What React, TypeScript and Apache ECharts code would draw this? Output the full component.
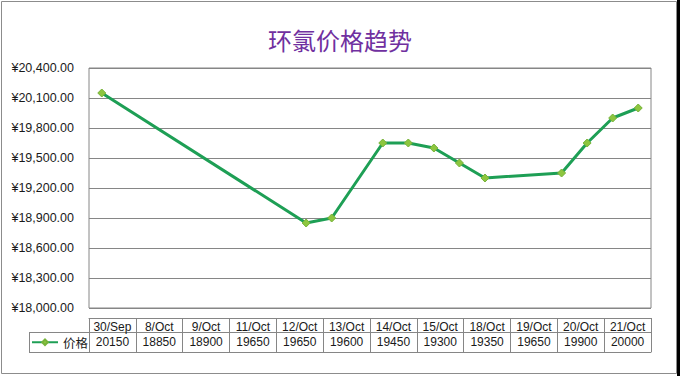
import React, { useEffect, useRef } from "react";
import * as echarts from "echarts";

const categories = ["30/Sep", "8/Oct", "9/Oct", "11/Oct", "12/Oct", "13/Oct", "14/Oct", "15/Oct", "18/Oct", "19/Oct", "20/Oct", "21/Oct"];
const prices = [20150, 18850, 18900, 19650, 19650, 19600, 19450, 19300, 19350, 19650, 19900, 20000];
const seriesName = "价格";
const titleText = "环氯价格趋势";
const yMin = 18000;
const yMax = 20400;
const yInterval = 300;

const MONTHS = ["Jan", "Feb", "Mar", "Apr", "May", "Jun", "Jul", "Aug", "Sep", "Oct", "Nov", "Dec"];
function labelToTime(label: string): number {
  const [d, m] = label.split("/");
  return Date.UTC(2021, MONTHS.indexOf(m), Number(d));
}
const t0 = labelToTime(categories[0]);
const dayOffsets = categories.map((c) => (labelToTime(c) - t0) / 86400000);
const lastDay = dayOffsets[dayOffsets.length - 1];

function formatYen(v: number): string {
  const s = Math.round(v).toString().replace(/\B(?=(\d{3})+(?!\d))/g, ",");
  return "¥" + s + ".00";
}

const GRID = "#868686";
const LINE = "#1E9F55";
const TEXT = "#1a1a1a";
const FONT = "'Liberation Sans', Arial, sans-serif";
const CJK = "'Noto Sans CJK SC', sans-serif";

export default function App() {
  const ref = useRef<HTMLDivElement>(null);
  useEffect(() => {
    if (!ref.current) return;
    const chart = echarts.init(ref.current, null, { renderer: "svg" });
    chart.setOption({
      animation: false,
      backgroundColor: "#ffffff",
      title: {
        text: titleText,
        left: "center",
        top: 27,
        padding: 0,
        textStyle: { color: "#7030A0", fontSize: 24, fontWeight: "normal", fontFamily: CJK },
      },
      legend: {
        data: [seriesName],
        left: 31,
        top: 336,
        padding: 0,
        itemWidth: 26,
        itemHeight: 7,
        textStyle: { fontSize: 12.5, color: TEXT, fontFamily: CJK },
      },
      grid: {
        left: 89,
        top: 68,
        width: 562,
        height: 240,
        show: true,
        borderColor: GRID,
        borderWidth: 1,
        backgroundColor: "transparent",
      },
      xAxis: [
        {
          type: "value",
          min: -0.5,
          max: lastDay + 0.5,
          show: false,
        },
        {
          type: "category",
          position: "bottom",
          offset: 10,
          data: categories,
          boundaryGap: true,
          axisLine: { show: true, lineStyle: { color: GRID, width: 1 } },
          axisTick: { show: true, interval: 0, length: 34, lineStyle: { color: GRID, width: 1 } },
          axisLabel: { interval: 0, margin: 3, fontSize: 12, color: TEXT, fontFamily: FONT },
          splitLine: { show: false },
        },
        {
          type: "category",
          position: "bottom",
          offset: 24,
          data: prices.map((p) => String(p)),
          boundaryGap: true,
          axisLine: { show: true, lineStyle: { color: GRID, width: 1 } },
          axisTick: { show: false },
          axisLabel: { interval: 0, margin: 4, fontSize: 12, color: TEXT, fontFamily: FONT },
          splitLine: { show: false },
        },
        {
          type: "category",
          position: "bottom",
          offset: 44,
          data: categories,
          axisLine: { show: true, lineStyle: { color: GRID, width: 1 } },
          axisTick: { show: false },
          axisLabel: { show: false },
          splitLine: { show: false },
        },
      ],
      yAxis: {
        type: "value",
        min: yMin,
        max: yMax,
        interval: yInterval,
        axisLine: { show: false },
        axisTick: { show: false },
        axisLabel: { formatter: formatYen, margin: 15, fontSize: 12.5, color: TEXT, fontFamily: FONT },
        splitLine: { show: true, lineStyle: { color: GRID, width: 1 } },
      },
      series: [
        {
          name: seriesName,
          type: "line",
          xAxisIndex: 0,
          yAxisIndex: 0,
          data: categories.map((c, i) => [dayOffsets[i], prices[i]]),
          symbol: "diamond",
          symbolSize: 8,
          lineStyle: { color: LINE, width: 3 },
          itemStyle: { color: "#8DC63F", borderColor: "#77B33A", borderWidth: 1 },
        },
      ],
      graphic: [
        { type: "rect", shape: { x: 1.5, y: 1.5, width: 675, height: 372 }, style: { fill: "none", stroke: "#8c8c8c", lineWidth: 1 }, silent: true },
        { type: "rect", shape: { x: 677, y: 0, width: 3, height: 376 }, style: { fill: "#000000" }, silent: true },
        { type: "line", shape: { x1: 29.5, y1: 332, x2: 29.5, y2: 353 }, style: { stroke: GRID, lineWidth: 1 }, silent: true },
        { type: "line", shape: { x1: 29, y1: 332.5, x2: 90, y2: 332.5 }, style: { stroke: GRID, lineWidth: 1 }, silent: true },
        { type: "line", shape: { x1: 29, y1: 352.5, x2: 90, y2: 352.5 }, style: { stroke: GRID, lineWidth: 1 }, silent: true },
      ],
    });
    return () => chart.dispose();
  }, []);
  return <div ref={ref} style={{ position: "fixed", left: 0, top: 0, width: 680, height: 376 }} />;
}
